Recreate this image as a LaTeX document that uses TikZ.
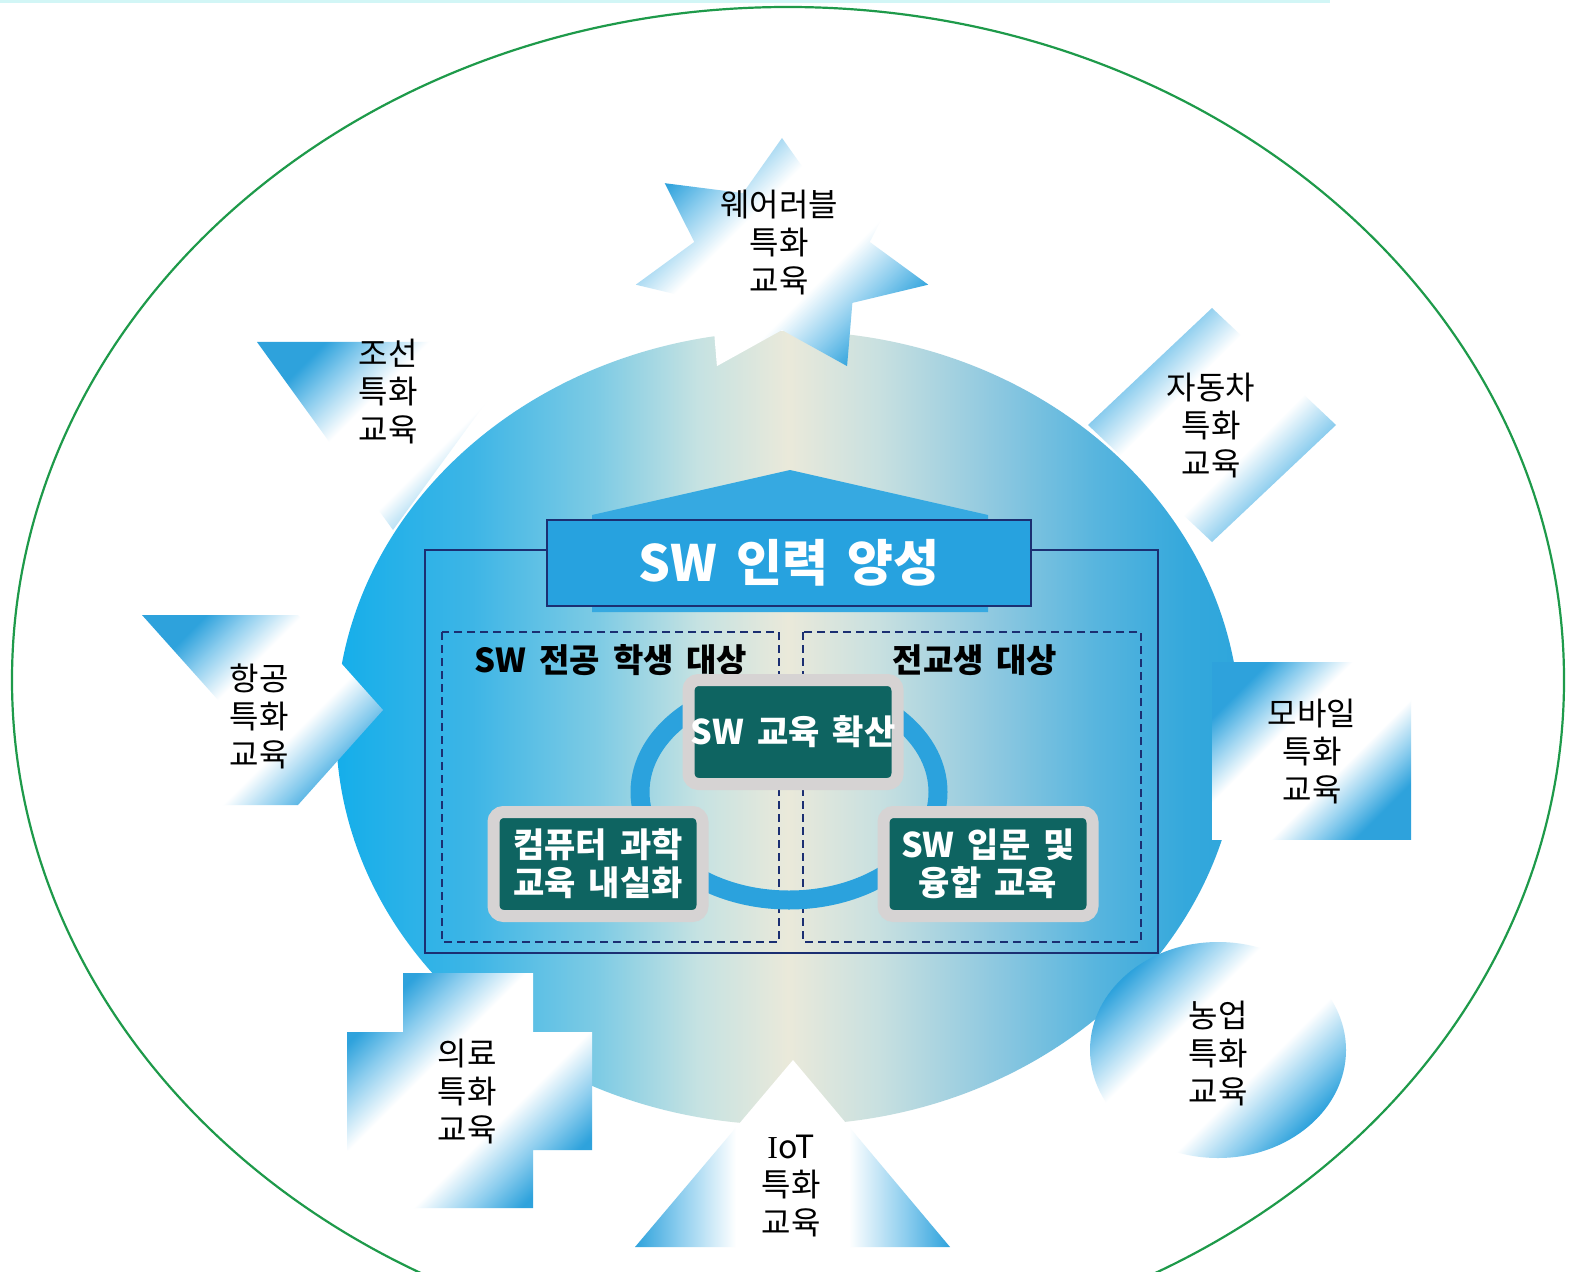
\documentclass[tikz,border=0pt]{standalone}
\usepackage{fontspec}
\newfontfamily\kr{Noto Sans CJK KR}
\newfontfamily\krw[WordSpace=1.7]{Noto Sans CJK KR}
\newfontfamily\serifI{Liberation Serif}
\definecolor{grn}{HTML}{1E9A4A}
\definecolor{topline}{HTML}{D2F6F6}
\definecolor{navy}{HTML}{1B2F72}
\definecolor{tbox}{HTML}{27A2DF}
\definecolor{tealc}{HTML}{0E6461}
\definecolor{gbord}{HTML}{D6D3D3}
\definecolor{ringc}{HTML}{2BA2DD}
\definecolor{sblue}{HTML}{2EA2DC}
\definecolor{slight}{HTML}{8CCDEE}
\definecolor{housec}{HTML}{36A9E1}
\definecolor{e0}{HTML}{15AEEA}
\definecolor{e1}{HTML}{3DB5E6}
\definecolor{e2}{HTML}{7ECBE4}
\definecolor{e3}{HTML}{C5E2E2}
\definecolor{e4}{HTML}{EAE9DA}
\definecolor{e5}{HTML}{C8E0E0}
\definecolor{e6}{HTML}{8DC8E0}
\definecolor{e7}{HTML}{58B5DE}
\definecolor{e8}{HTML}{34A8DC}
\definecolor{e9}{HTML}{2EA6DC}
\pgfdeclarehorizontalshading{bigell}{100bp}{color(0bp)=(e0); color(25bp)=(e0); color(32.5bp)=(e1); color(39.5bp)=(e2); color(45bp)=(e3); color(50bp)=(e4); color(55bp)=(e5); color(61.5bp)=(e6); color(67bp)=(e7); color(72bp)=(e8); color(75bp)=(e9); color(100bp)=(e9)}
\pgfdeclarehorizontalshading{bwb}{100bp}{color(0bp)=(sblue); color(25bp)=(sblue); color(32bp)=(slight); color(41bp)=(white); color(59bp)=(white); color(68bp)=(slight); color(75bp)=(sblue); color(100bp)=(sblue)}
\tikzset{
  sh/.style={shading=bwb, shading angle=#1},
  lbl/.style={font=\kr\fontsize{16}{19}\selectfont, align=center, text=black, inner sep=0pt},
  head/.style={font=\krw\bfseries\fontsize{16.5}{19}\selectfont, text=black, inner sep=0pt},
  titlebox/.style={rectangle, fill=tbox, draw=navy, line width=1pt, minimum width=242pt, minimum height=43pt, inner sep=0pt, text=white, font=\krw\bfseries\fontsize{25}{30}\selectfont},
  tealbox/.style={rectangle, rounded corners=5pt, fill=tealc, draw=gbord, line width=6pt, minimum width=104.5pt, minimum height=52pt, inner sep=0pt, text=white, align=center, font=\krw\bfseries\fontsize{17}{19}\selectfont},
  frame/.style={draw=navy, line width=1pt},
  dbox/.style={draw=navy, line width=0.8pt, dash pattern=on 4pt off 2.5pt}
}
\begin{document}
\begin{tikzpicture}[x=0.5pt,y=-0.5pt]
\clip (0,0) rectangle (1572,1272);
\fill[white] (0,0) rectangle (1572,1272);
\fill[topline] (0,0) rectangle (1330,3);
% outer green ellipse
\draw[grn, line width=1.1pt] (788,680) ellipse [x radius=776, y radius=673];
% big central ellipse
\shade[shading=bigell] (788,728) ellipse [x radius=452, y radius=397];
% house arrow behind the title
\fill[housec] (790,470) -- (988,515) -- (988,612) -- (592,612) -- (592,515) -- cycle;
% frame
\draw[frame] (425,550) rectangle (1158,953);
% title
\node[titlebox] (title) at (789,563) {SW 인력 양성};
% dashed boxes
\draw[dbox] (442,632) rectangle (779,942);
\draw[dbox] (803,632) rectangle (1141,942);
\node[head] (hl) at (611,660) {SW 전공 학생 대상};
\node[head] (hr) at (975,660) {전교생 대상};
% ring
\draw[ringc, line width=9.5pt] (789,792) ellipse [x radius=149, y radius=108];
% teal boxes
\node[tealbox] (top) at (793,732) {SW 교육 확산};
\node[tealbox] (left) at (598,864) {컴퓨터 과학\\교육 내실화};
\node[tealbox] (right) at (988,864) {SW 입문 및\\융합 교육};
% star (wearable)
\shade[sh=-45] plot[samples at={0,...,13}, variable=\t] ({782+150*(mod(\t,2)==0 ? 1 : 0.6)*cos(90+\t*360/14)}, {258-120*(mod(\t,2)==0 ? 1 : 0.6)*sin(90+\t*360/14)}) -- cycle;
\node[lbl] (wear) at (779,243) {웨어러블\\특화\\교육};
% inverted triangle (shipbuilding)
\shade[sh=-45] (257,342) -- (530,342) -- (393,530) -- cycle;
\node[lbl] (ship) at (388,392) {조선\\특화\\교육};
% diamond (automobile)
\shade[sh=-45] (1212,308) -- (1336,425) -- (1212,542) -- (1088,425) -- cycle;
\node[lbl] (auto) at (1211,426) {자동차\\특화\\교육};
% chevron (aviation)
\shade[sh=-45] (142,615) -- (298,615) -- (383,710) -- (298,805) -- (142,805) -- (227,710) -- cycle;
\node[lbl] (air) at (259,716) {항공\\특화\\교육};
% rectangle (mobile)
\shade[sh=-45] (1212,662) rectangle (1411,839);
\node[lbl] (mob) at (1312,752) {모바일\\특화\\교육};
% cross (medical)
\shade[sh=-45] (403,973) -- (533,973) -- (533,1032) -- (592,1032) -- (592,1150) -- (533,1150) -- (533,1208) -- (403,1208) -- (403,1150) -- (347,1150) -- (347,1032) -- (403,1032) -- cycle;
\node[lbl] (med) at (467,1092) {의료\\특화\\교육};
% circle (agriculture)
\shade[sh=-45] (1218,1050) ellipse [x radius=128, y radius=108];
\node[lbl] (agr) at (1218,1054) {농업\\특화\\교육};
% triangle (IoT)
\shade[sh=0] (793,1060) -- (950,1247) -- (635,1247) -- cycle;
\node[lbl] (iot) at (791,1186) {{\serifI I}oT\\특화\\교육};
\end{tikzpicture}
\end{document}
